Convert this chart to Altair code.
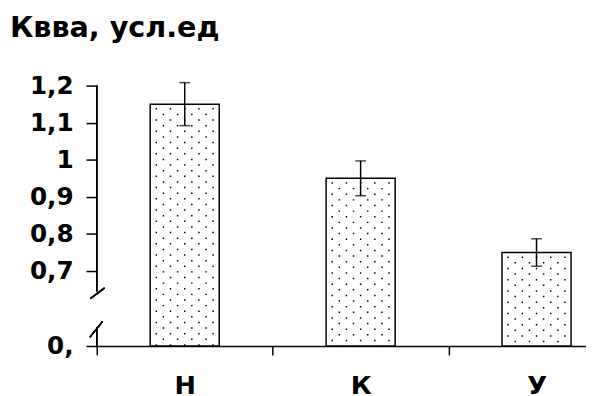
import altair as alt
import pandas as pd

# ---- data ----
categories = ["Н", "К", "У"]
means = [1.15, 0.95, 0.75]
errors = [0.058, 0.047, 0.037]

tick_values = [0, 0.7, 0.8, 0.9, 1.0, 1.1, 1.2]
tick_labels = ["0,", "0,7", "0,8", "0,9", "1", "1,1", "1,2"]

title_text = "Квва, усл.ед"

df = pd.DataFrame({
    "cat": categories,
    "v": means,
    "lo": [m - e for m, e in zip(means, errors)],
    "hi": [m + e for m, e in zip(means, errors)],
})

FONT = "DejaVu Sans"
H = 264
yscale = alt.Scale(domain=[0, 0.6, 1.2], range=[H, 225.6, 0], nice=False, zero=False)
xscale = alt.Scale(domain=categories, range=[0, 535], paddingInner=0, paddingOuter=0)

label_map = "{" + ",".join(f"'{v:g}':'{l}'" for v, l in zip(tick_values, tick_labels)) + "}"

x_enc = alt.X("cat:N", sort=categories, scale=xscale, title=None,
              axis=alt.Axis(tickBand="extent", tickSize=9, tickWidth=1.5, tickColor="black",
                            domainColor="black", domainWidth=1.5, labelAngle=0,
                            labelFont=FONT, labelFontSize=26, labelFontWeight="bold",
                            labelColor="black", labelPadding=18, grid=False))
y_enc = alt.Y("v:Q", scale=yscale, title=None,
              axis=alt.Axis(values=tick_values, labelExpr=f"{label_map}[toString(datum.value)]",
                            tickSize=11, tickWidth=1.5, tickColor="black", domain=False,
                            grid=False, labelFont=FONT, labelFontSize=25,
                            labelFontWeight="bold", labelColor="black", labelPadding=13))

base = alt.Chart(df)

bars = base.mark_bar(size=70, fill="white", stroke="black", strokeWidth=1.5).encode(
    x=x_enc, y=y_enc, y2=alt.datum(0))

dot_layers = []
for k in range(-4, 5):
    off = 7.4 if k % 2 == 0 else 1.7
    dot_layers.append(
        base.mark_rule(xOffset=k * 7.2, stroke="black", strokeWidth=1.5,
                       strokeDash=[1.5, 9.9], strokeDashOffset=off).encode(
            x=alt.X("cat:N", sort=categories, scale=xscale),
            y=alt.Y("v:Q", scale=yscale), y2=alt.datum(0.01))
    )

err = base.mark_rule(stroke="black", strokeWidth=1.5).encode(
    x=alt.X("cat:N", sort=categories, scale=xscale),
    y=alt.Y("lo:Q", scale=yscale), y2="hi:Q")
cap_lo = base.mark_tick(size=11, thickness=1.5, color="black").encode(
    x=alt.X("cat:N", sort=categories, scale=xscale), y=alt.Y("lo:Q", scale=yscale))
cap_hi = base.mark_tick(size=11, thickness=1.5, color="black").encode(
    x=alt.X("cat:N", sort=categories, scale=xscale), y=alt.Y("hi:Q", scale=yscale))

# broken y axis line and break marks
axis_upper = base.mark_rule(stroke="black", strokeWidth=1.5).encode(
    x=alt.value(0), y=alt.datum(1.2, scale=yscale), y2=alt.datum(0.645))
axis_lower = base.mark_rule(stroke="black", strokeWidth=1.5).encode(
    x=alt.value(0), y=alt.datum(0.3, scale=yscale), y2=alt.datum(0))
slash_up = base.mark_rule(stroke="black", strokeWidth=1.5).encode(
    x=alt.value(-6.5), x2=alt.value(8), y=alt.datum(0.6255, scale=yscale), y2=alt.datum(0.6548))
slash_lo = base.mark_rule(stroke="black", strokeWidth=1.5).encode(
    x=alt.value(-7), x2=alt.value(6), y=alt.datum(0.14, scale=yscale), y2=alt.datum(0.39))

chart = alt.layer(
    bars, *dot_layers, err, cap_lo, cap_hi, axis_upper, axis_lower, slash_up, slash_lo
).properties(
    width=496, height=H,
    background="white",
    autosize=alt.AutoSizeParams(type="none"),
    padding={"left": 90, "top": 76, "right": 0, "bottom": 48},
    title=alt.TitleParams(title_text, anchor="start", frame="group", dx=-88, offset=31,
                          font=FONT, fontSize=29, fontWeight="bold", color="black"),
).configure_view(strokeWidth=0, stroke="transparent").configure_axis(grid=False)

chart.save("out.html", embed_options={"renderer": "svg", "actions": False})
